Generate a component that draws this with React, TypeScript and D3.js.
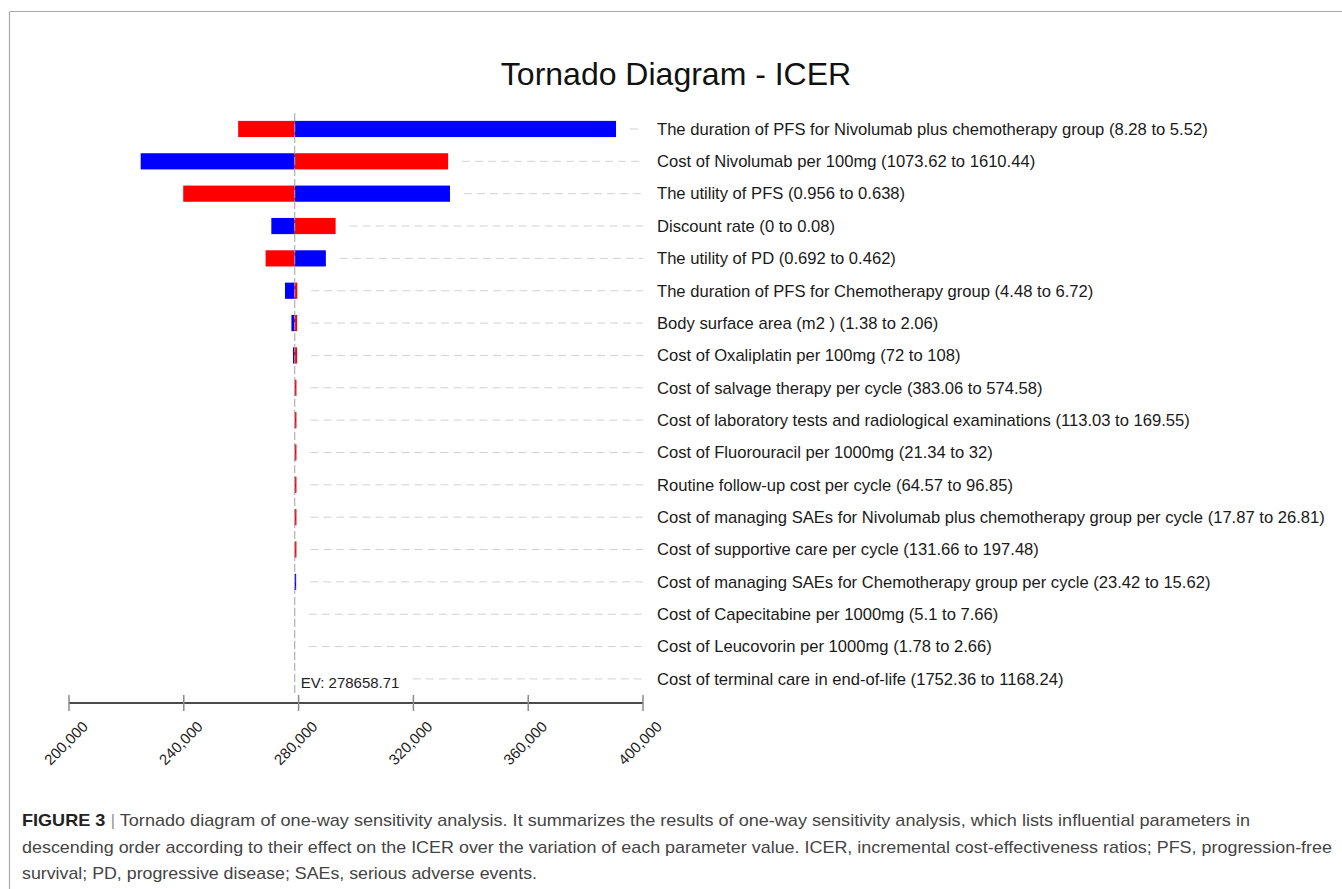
import React from "react";
import * as d3 from "d3";

const params = [
  "The duration of PFS for Nivolumab plus chemotherapy group (8.28 to 5.52)",
  "Cost of Nivolumab per 100mg (1073.62 to 1610.44)",
  "The utility of PFS (0.956 to 0.638)",
  "Discount rate (0 to 0.08)",
  "The utility of PD (0.692 to 0.462)",
  "The duration of PFS for Chemotherapy group (4.48 to 6.72)",
  "Body surface area (m2 ) (1.38 to 2.06)",
  "Cost of Oxaliplatin per 100mg (72 to 108)",
  "Cost of salvage therapy per cycle (383.06 to 574.58)",
  "Cost of laboratory tests and radiological examinations (113.03 to 169.55)",
  "Cost of Fluorouracil per 1000mg (21.34 to 32)",
  "Routine follow-up cost per cycle (64.57 to 96.85)",
  "Cost of managing SAEs for Nivolumab plus chemotherapy group per cycle (17.87 to 26.81)",
  "Cost of supportive care per cycle (131.66 to 197.48)",
  "Cost of managing SAEs for Chemotherapy group per cycle (23.42 to 15.62)",
  "Cost of Capecitabine per 1000mg (5.1 to 7.66)",
  "Cost of Leucovorin per 1000mg (1.78 to 2.66)",
  "Cost of terminal care in end-of-life (1752.36 to 1168.24)",
];

const blueValues = [
  390600, 224980, 332750, 270500, 289500, 275260, 277500, 278050, 278600,
  278600, 278600, 278600, 278600, 278600, 279150, 278640, 278650, 278659,
];

const redValues = [
  258950, 332100, 239800, 292900, 268500, 279550, 279480, 279480, 279250,
  279250, 279250, 279250, 279250, 279250, 278600, 278680, 278670, 278658,
];

const ev = 278658.71;
const xTicks = [200000, 240000, 280000, 320000, 360000, 400000];

const title = "Tornado Diagram - ICER";
const captionLines = [
  "Tornado diagram of one-way sensitivity analysis. It summarizes the results of one-way sensitivity analysis, which lists influential parameters in",
  "descending order according to their effect on the ICER over the variation of each parameter value. ICER, incremental cost-effectiveness ratios; PFS, progression-free",
  "survival; PD, progressive disease; SAEs, serious adverse events.",
];

const FONT = "'Liberation Sans', Arial, Helvetica, sans-serif";

export default function App() {
  const W = 1342;
  const H = 889;
  const x = d3.scaleLinear().domain([200000, 400000]).range([69, 643]);
  const y = d3
    .scaleBand<string>()
    .domain(params)
    .range([112.8, 695.1])
    .paddingInner(0.5)
    .paddingOuter(0.25);
  const bw = y.bandwidth();
  const xe = x(ev);
  const fmt = d3.format(",");
  const axisY = 703;

  return (
    <svg
      width={W}
      height={H}
      style={{ position: "absolute", left: 0, top: 0, background: "#fff" }}
      fontFamily={FONT}
    >
      <rect x={0} y={0} width={W} height={H} fill="#fff" />
      {/* frame */}
      <line x1={9.5} y1={11.5} x2={W} y2={11.5} stroke="#a8a8a8" strokeWidth={1.2} />
      <line x1={9.5} y1={11.5} x2={9.5} y2={H} stroke="#a8a8a8" strokeWidth={1.2} />

      <text x={676} y={85} textAnchor="middle" fontSize={32} fill="#111">
        {title}
      </text>

      {/* guide dashed lines */}
      {params.map((p, i) => {
        const end = Math.max(x(blueValues[i]), x(redValues[i]), xe);
        const cy = (y(p) as number) + bw / 2;
        return (
          <line
            key={"g" + i}
            x1={end + 14}
            x2={643}
            y1={cy}
            y2={cy}
            stroke="#d2d2d2"
            strokeWidth={1}
            strokeDasharray="8,5"
          />
        );
      })}

      {/* bars */}
      {params.map((p, i) => {
        const y0 = y(p) as number;
        const bars = [
          { v: blueValues[i], c: "#0000ff" },
          { v: redValues[i], c: "#ff0000" },
        ];
        return (
          <g key={"b" + i}>
            {bars.map((b, j) => {
              const xv = x(b.v);
              const x0 = Math.min(xv, xe);
              const w = Math.abs(xv - xe);
              return <rect key={j} x={x0} y={y0} width={w} height={bw} fill={b.c} />;
            })}
          </g>
        );
      })}

      {/* EV line */}
      <line
        x1={xe}
        x2={xe}
        y1={113}
        y2={696}
        stroke="#a0a0a0"
        strokeWidth={1}
        strokeDasharray="8,3"
      />

      {/* EV label */}
      <rect x={xe + 4} y={672} width={112} height={22} fill="#fff" />
      <text x={xe + 6} y={688} fontSize={15} fill="#222">
        {"EV: " + ev.toFixed(2)}
      </text>

      {/* labels */}
      {params.map((p, i) => (
        <text
          key={"l" + i}
          x={657}
          y={(y(p) as number) + bw / 2}
          dy="0.35em"
          fontSize={16.6}
          fill="#1a1a1a"
        >
          {p}
        </text>
      ))}

      {/* axis */}
      <line x1={x(200000)} x2={x(400000)} y1={axisY} y2={axisY} stroke="#4a4a4a" strokeWidth={2} />
      {xTicks.map((t) => (
        <g key={"t" + t}>
          <line x1={x(t)} x2={x(t)} y1={axisY - 8} y2={axisY + 8} stroke="#8a8a8a" strokeWidth={1.5} />
          <text
            transform={`translate(${x(t) - 3},${743}) rotate(-45)`}
            textAnchor="middle"
            dy="0.35em"
            fontSize={15}
            fill="#222"
          >
            {fmt(t)}
          </text>
        </g>
      ))}

      {/* caption */}
      <text x={22} y={826} fontSize={17} fill="#444" textLength={1228} lengthAdjust="spacingAndGlyphs">
        <tspan fontWeight="bold" fill="#222">FIGURE 3</tspan>
        <tspan fill="#999"> | </tspan>
        <tspan>{captionLines[0]}</tspan>
      </text>
      <text x={22} y={853} fontSize={17} fill="#444" textLength={1310} lengthAdjust="spacingAndGlyphs">
        {captionLines[1]}
      </text>
      <text x={22} y={879} fontSize={17} fill="#444" textLength={515} lengthAdjust="spacingAndGlyphs">
        {captionLines[2]}
      </text>
    </svg>
  );
}
